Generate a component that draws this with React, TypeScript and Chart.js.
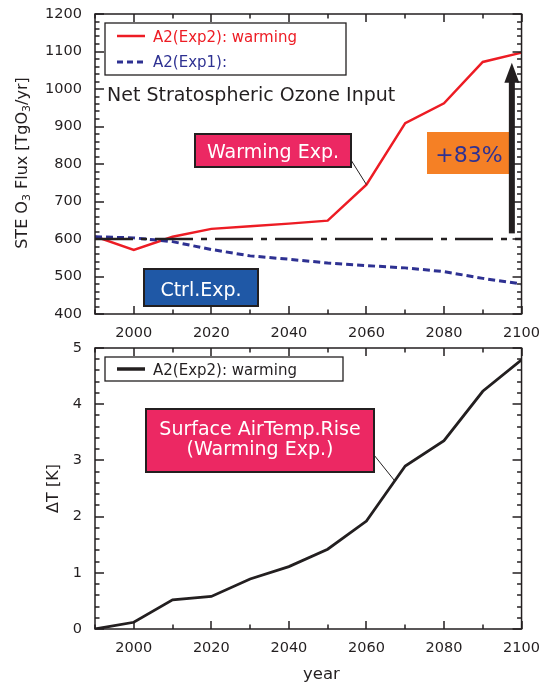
import { useEffect, useRef } from "react";
import { Chart, registerables } from "chart.js";

Chart.register(...registerables);

// Decadal model output, 1990–2100
const years = [1990, 2000, 2010, 2020, 2030, 2040, 2050, 2060, 2070, 2080, 2090, 2100];
// Net stratosphere–troposphere ozone flux [TgO3/yr]
const fluxWarming = [607, 571, 606, 627, 634, 641, 649, 745, 909, 962, 1072, 1097];
const fluxControl = [606, 603, 593, 572, 555, 546, 536, 529, 523, 513, 495, 480];
const baselineYears = [1990, 2100];
const fluxBaseline = [600, 600];
// Surface air temperature rise [K]
const tempRise = [0, 0.12, 0.52, 0.58, 0.89, 1.11, 1.42, 1.92, 2.9, 3.35, 4.23, 4.79];

const yearTicks = [2000, 2020, 2040, 2060, 2080, 2100];
const fluxTicks = [400, 500, 600, 700, 800, 900, 1000, 1100, 1200];
const tempTicks = [0, 1, 2, 3, 4, 5];

// Flux increase arrow (2100 warming value against the 600 TgO3/yr baseline)
const increaseLabel = "+83%";
const arrowYear = 2097.5;
const arrowFrom = 615;
const arrowTo = 1070;

const INK = "#231f20";
const RED = "#ed1c24";
const NAVY = "#2e3192";
const PINK = "#ec2863";
const CTRL_BLUE = "#1f58a6";
const ORANGE = "#f58025";
const FAMILY = "'DejaVu Sans', 'Liberation Sans', sans-serif";
const font = (size: number) => `${size}px ${FAMILY}`;

Chart.defaults.font.family = FAMILY;

type LegendRow = { label: string; color: string; width: number; dash: number[]; lineY: number; textY: number };

function drawLegend(ctx: CanvasRenderingContext2D, x: number, y: number, w: number, h: number, rows: LegendRow[]) {
  ctx.save();
  ctx.fillStyle = "#fff";
  ctx.fillRect(x, y, w, h);
  ctx.strokeStyle = INK;
  ctx.lineWidth = 1.3;
  ctx.strokeRect(x, y, w, h);
  for (const r of rows) {
    ctx.strokeStyle = r.color;
    ctx.lineWidth = r.width;
    ctx.setLineDash(r.dash);
    ctx.beginPath();
    ctx.moveTo(x + 12, r.lineY);
    ctx.lineTo(x + 40, r.lineY);
    ctx.stroke();
    ctx.setLineDash([]);
    ctx.fillStyle = r.color;
    ctx.font = font(15);
    ctx.textBaseline = "alphabetic";
    ctx.textAlign = "left";
    ctx.fillText(r.label, x + 48, r.textY);
  }
  ctx.restore();
}

function drawTagBox(
  ctx: CanvasRenderingContext2D,
  x: number, y: number, w: number, h: number,
  fill: string, border: boolean,
  lines: { text: string; baseline: number }[],
  color: string, size: number
) {
  ctx.save();
  ctx.fillStyle = fill;
  ctx.fillRect(x, y, w, h);
  if (border) {
    ctx.strokeStyle = INK;
    ctx.lineWidth = 2;
    ctx.strokeRect(x, y, w, h);
  }
  ctx.fillStyle = color;
  ctx.font = font(size);
  ctx.textAlign = "center";
  ctx.textBaseline = "alphabetic";
  for (const l of lines) ctx.fillText(l.text, x + w / 2, l.baseline);
  ctx.restore();
}

function drawConnector(ctx: CanvasRenderingContext2D, x1: number, y1: number, x2: number, y2: number) {
  ctx.save();
  ctx.strokeStyle = INK;
  ctx.lineWidth = 1;
  ctx.beginPath();
  ctx.moveTo(x1, y1);
  ctx.lineTo(x2, y2);
  ctx.stroke();
  ctx.restore();
}

// Rotated axis title made of runs; subscript runs are smaller and lowered.
function drawVerticalTitle(ctx: CanvasRenderingContext2D, cx: number, cy: number, runs: { text: string; sub?: boolean }[]) {
  ctx.save();
  ctx.translate(cx, cy);
  ctx.rotate(-Math.PI / 2);
  ctx.fillStyle = INK;
  ctx.textBaseline = "alphabetic";
  ctx.textAlign = "left";
  let total = 0;
  const widths = runs.map((r) => {
    ctx.font = font(r.sub ? 11 : 16);
    const w = ctx.measureText(r.text).width;
    total += w;
    return w;
  });
  let x = -total / 2;
  runs.forEach((r, i) => {
    ctx.font = font(r.sub ? 11 : 16);
    ctx.fillText(r.text, x, r.sub ? 3.5 : 0);
    x += widths[i];
  });
  ctx.restore();
}

// Closed frame with inward major/minor ticks on all four sides
function frameTicks(minorX: number, minorY: number) {
  return {
    id: "frameTicks",
    afterDraw(chart: any) {
      const { ctx, chartArea: a } = chart;
      const xs = chart.scales.x;
      const ys = chart.scales.y;
      const isMajor = (list: number[], v: number) => list.some((m) => Math.abs(m - v) < 1e-6);
      ctx.save();
      ctx.strokeStyle = INK;
      ctx.lineWidth = 1.5;
      ctx.setLineDash([]);
      ctx.beginPath();
      const nx = Math.round((xs.max - xs.min) / minorX);
      for (let i = 0; i <= nx; i++) {
        const v = xs.min + i * minorX;
        const p = Math.round(xs.getPixelForValue(v));
        const len = isMajor(yearTicks, v) ? 8 : 4.5;
        ctx.moveTo(p, a.bottom);
        ctx.lineTo(p, a.bottom - len);
        ctx.moveTo(p, a.top);
        ctx.lineTo(p, a.top + len);
      }
      const yMajor: number[] = ys.ticks.map((t: any) => t.value);
      const ny = Math.round((ys.max - ys.min) / minorY);
      for (let i = 0; i <= ny; i++) {
        const v = ys.min + i * minorY;
        const p = Math.round(ys.getPixelForValue(v));
        const len = isMajor(yMajor, v) ? 9 : 4.5;
        ctx.moveTo(a.left, p);
        ctx.lineTo(a.left + len, p);
        ctx.moveTo(a.right, p);
        ctx.lineTo(a.right - len, p);
      }
      ctx.stroke();
      ctx.lineWidth = 1.5;
      ctx.strokeRect(a.left, a.top, a.right - a.left, a.bottom - a.top);
      ctx.restore();
    },
  };
}

const fluxNotes = {
  id: "fluxNotes",
  afterDraw(chart: any) {
    const { ctx, chartArea: a } = chart;
    const xs = chart.scales.x;
    const ys = chart.scales.y;
    const ds = chart.data.datasets;

    drawLegend(ctx, a.left + 10, a.top + 9, 241, 52, [
      { label: ds[2].label, color: ds[2].borderColor, width: 2.5, dash: [], lineY: a.top + 22, textY: a.top + 27.7 },
      { label: ds[1].label, color: ds[1].borderColor, width: 3, dash: [6, 4], lineY: a.top + 48, textY: a.top + 52.7 },
    ]);

    ctx.save();
    ctx.fillStyle = INK;
    ctx.font = font(19);
    ctx.textAlign = "left";
    ctx.textBaseline = "alphabetic";
    ctx.fillText("Net Stratospheric Ozone Input", a.left + 12, a.top + 86.7);
    ctx.restore();

    // Warming experiment tag with leader to the 2060 point
    const iWarm = years.indexOf(2060);
    drawConnector(ctx, a.left + 256, a.top + 146, xs.getPixelForValue(years[iWarm]), ys.getPixelForValue(fluxWarming[iWarm]));
    drawTagBox(ctx, a.left + 100, a.top + 120, 156, 33, PINK, true, [{ text: "Warming Exp.", baseline: a.top + 143.5 }], "#fff", 19);

    drawTagBox(ctx, a.left + 49, a.top + 255, 114, 37, CTRL_BLUE, true, [{ text: "Ctrl.Exp.", baseline: a.top + 281.5 }], "#fff", 19);

    drawTagBox(ctx, a.left + 332, a.top + 118, 84, 42, ORANGE, false, [{ text: increaseLabel, baseline: a.top + 148.3 }], NAVY, 22);

    // Increase arrow
    const ax = xs.getPixelForValue(arrowYear);
    const yBase = ys.getPixelForValue(arrowFrom);
    const yTip = ys.getPixelForValue(arrowTo);
    const headLen = 20;
    ctx.save();
    ctx.fillStyle = INK;
    ctx.fillRect(ax - 3, yTip + headLen - 1, 6, yBase - yTip - headLen + 1);
    ctx.beginPath();
    ctx.moveTo(ax, yTip);
    ctx.lineTo(ax + 7.5, yTip + headLen);
    ctx.lineTo(ax - 7.5, yTip + headLen);
    ctx.closePath();
    ctx.fill();
    ctx.restore();

    drawVerticalTitle(ctx, 26.5, (a.top + a.bottom) / 2 - 1, [
      { text: "STE O" },
      { text: "3", sub: true },
      { text: " Flux [TgO" },
      { text: "3", sub: true },
      { text: "/yr]" },
    ]);
  },
};

const tempNotes = {
  id: "tempNotes",
  afterDraw(chart: any) {
    const { ctx, chartArea: a } = chart;
    const xs = chart.scales.x;
    const ys = chart.scales.y;
    const ds = chart.data.datasets;

    drawLegend(ctx, a.left + 10, a.top + 9, 238, 24, [
      { label: ds[0].label, color: ds[0].borderColor, width: 3.5, dash: [], lineY: a.top + 21, textY: a.top + 27 },
    ]);

    // leader to the warming curve near 2067
    const yr = 2067.3;
    const i = years.findIndex((y) => y > yr) - 1;
    const t = (yr - years[i]) / (years[i + 1] - years[i]);
    const v = tempRise[i] + t * (tempRise[i + 1] - tempRise[i]);
    drawConnector(ctx, a.left + 279, a.top + 107, xs.getPixelForValue(yr), ys.getPixelForValue(v));

    drawTagBox(ctx, a.left + 51, a.top + 61, 228, 63, PINK, true, [
      { text: "Surface AirTemp.Rise", baseline: a.top + 87 },
      { text: "(Warming Exp.)", baseline: a.top + 107 },
    ], "#fff", 19);

    drawVerticalTitle(ctx, 58, (a.top + a.bottom) / 2, [{ text: "ΔT [K]" }]);

    ctx.save();
    ctx.fillStyle = INK;
    ctx.font = font(16.5);
    ctx.textAlign = "center";
    ctx.textBaseline = "alphabetic";
    ctx.fillText("year", 321.5, a.bottom + 50);
    ctx.restore();
  },
};

const tickFont = { family: FAMILY, size: 14.5 };

function xAxis(height: number) {
  return {
    type: "linear" as const,
    min: 1990,
    max: 2100,
    grid: { display: false, drawTicks: false },
    border: { display: false },
    ticks: { color: INK, font: tickFont, padding: 11, maxRotation: 0, autoSkip: false, callback: (v: any) => String(v) },
    afterBuildTicks: (s: any) => {
      s.ticks = yearTicks.map((value) => ({ value }));
    },
    afterFit: (s: any) => {
      s.height = height;
    },
  };
}

function yAxis(min: number, max: number, values: number[]) {
  return {
    min,
    max,
    grid: { display: false, drawTicks: false },
    border: { display: false },
    ticks: { color: INK, font: tickFont, padding: 13, callback: (v: any) => String(v) },
    afterBuildTicks: (s: any) => {
      s.ticks = values.map((value) => ({ value }));
    },
    afterFit: (s: any) => {
      s.width = 95;
    },
  };
}

export default function App() {
  const topRef = useRef<HTMLCanvasElement>(null);
  const bottomRef = useRef<HTMLCanvasElement>(null);

  useEffect(() => {
    const common = {
      responsive: false,
      animation: false as const,
      devicePixelRatio: 1,
      plugins: { legend: { display: false }, tooltip: { enabled: false } },
      elements: { point: { radius: 0 }, line: { tension: 0 } },
    };

    const fluxChart = new Chart(topRef.current!, {
      type: "line",
      data: {
        datasets: [
          {
            label: "Baseline",
            data: baselineYears.map((x, i) => ({ x, y: fluxBaseline[i] })),
            borderColor: INK,
            borderWidth: 2.5,
            borderDash: [38, 8, 6, 8],
          },
          {
            label: "A2(Exp1):",
            data: years.map((x, i) => ({ x, y: fluxControl[i] })),
            borderColor: NAVY,
            borderWidth: 3,
            borderDash: [7, 4],
          },
          {
            label: "A2(Exp2): warming",
            data: years.map((x, i) => ({ x, y: fluxWarming[i] })),
            borderColor: RED,
            borderWidth: 2.5,
          },
        ],
      },
      options: {
        ...common,
        layout: { padding: { left: 0, right: 19, top: 28, bottom: 0 } },
        scales: { x: xAxis(31), y: yAxis(400, 1200, fluxTicks) },
      } as any,
      plugins: [frameTicks(10, 20), fluxNotes],
    });

    const tempChart = new Chart(bottomRef.current!, {
      type: "line",
      data: {
        datasets: [
          {
            label: "A2(Exp2): warming",
            data: years.map((x, i) => ({ x, y: tempRise[i] })),
            borderColor: INK,
            borderWidth: 2.8,
          },
        ],
      },
      options: {
        ...common,
        layout: { padding: { left: 0, right: 19, top: 28, bottom: 0 } },
        scales: { x: xAxis(57), y: yAxis(0, 5, tempTicks) },
      } as any,
      plugins: [frameTicks(10, 0.2), tempNotes],
    });

    return () => {
      fluxChart.destroy();
      tempChart.destroy();
    };
  }, []);

  return (
    <div style={{ position: "absolute", left: 0, top: 0, width: 551, height: 686, background: "#fff", overflow: "hidden" }}>
      <canvas ref={topRef} width={551} height={359} style={{ position: "absolute", left: 0, top: -14 }} />
      <canvas ref={bottomRef} width={551} height={366} style={{ position: "absolute", left: 0, top: 320 }} />
    </div>
  );
}
